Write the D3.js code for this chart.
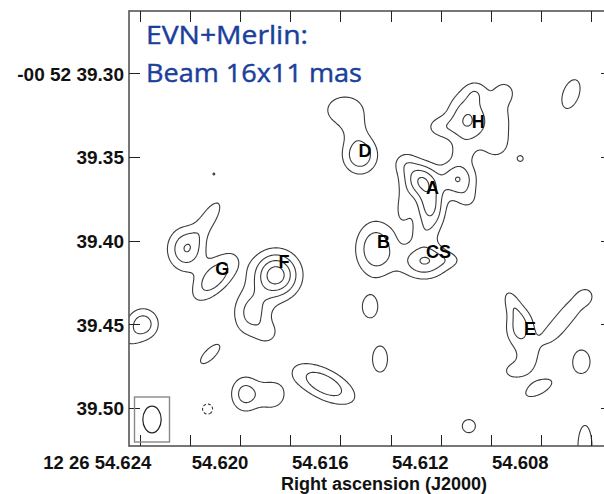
<!DOCTYPE html>
<html>
<head>
<meta charset="utf-8">
<script src="https://cdn.jsdelivr.net/npm/d3@7"></script>
<style>
  body { margin: 0; background: #fff; }
  svg { display: block; }
</style>
</head>
<body>
<svg id="chart" width="604" height="494"></svg>
<script>
// ---- Axes: right ascension (seconds of 12h26m) and declination (arcsec of -00d52m) ----
const raTicks = [54.624, 54.622, 54.620, 54.618, 54.616, 54.614, 54.612, 54.610, 54.608, 54.606];
const raTickLabels = ["12 26 54.624", "", "54.620", "", "54.616", "", "54.612", "", "54.608", ""];
const decTicks = [39.30, 39.35, 39.40, 39.45, 39.50];
const decTickLabels = ["-00 52 39.30", "39.35", "39.40", "39.45", "39.50"];
const raExtent = [54.62445, 54.60515];
const decExtent = [39.2627, 39.5229];

// ---- Brightness model: elliptical Gaussian components ----
// RA (s), Dec (arcsec), peak (in units of the lowest contour), FWHM major / minor (mas), PA (deg E of N)
const compRA   = [54.62106, 54.60881, 54.60679, 54.61522, 54.61582, 54.61542, 54.61091, 54.61059, 54.61202, 54.60963,
                  54.60943, 54.60983, 54.61115, 54.61282, 54.61242, 54.61130, 54.61342, 54.61350, 54.61091, 54.61274,
                  54.61458, 54.61266, 54.61162, 54.62102, 54.62217, 54.62125, 54.61858, 54.61954, 54.61890, 54.62389,
                  54.62449, 54.62121, 54.62131, 54.61982, 54.61874, 54.61666, 54.61482, 54.61442, 54.60883, 54.60915,
                  54.60751, 54.60671, 54.60619, 54.60851, 54.60911, 54.60637, 54.60807, 54.61087, 54.60623];
const compDec  = [39.3602, 39.3510, 39.3124, 39.3489, 39.3220, 39.3339, 39.3279, 39.3112, 39.3321, 39.3291,
                  39.3112, 39.3429, 39.3477, 39.3638, 39.3800, 39.3632, 39.3537, 39.3806, 39.3758, 39.3961,
                  39.4051, 39.4123, 39.4117, 39.4218, 39.4051, 39.3865, 39.4206, 39.4434, 39.4553, 39.4499,
                  39.4595, 39.4679, 39.5008, 39.4918, 39.4924, 39.4858, 39.4398, 39.4709, 39.4523, 39.4374,
                  39.4547, 39.4404, 39.4338, 39.4715, 39.4781, 39.4724, 39.4882, 39.5110, 39.5235];
const compPeak = [1.08, 1.2, 1.5, 2.9, 1.5, 0.6, 3.08, 1.1, 1.3, 1.3,
                  1.1, 0.9, 0.7, 3.5, 3.3, 2.95, 1.3, 1.1, 0.9, 0.8,
                  2.9, 3.05, 0.8, 2.8, 2.9, 1.5, 4.6, 2.4, 1.1, 2.6,
                  0.8, 1.5, -1.5, 2.4, 1.6, 2.8, 1.5, 1.5, 2.4, 1.4,
                  1.3, 1.3, 0.9, 1.3, 1.2, 1.5, 1.5, 1.5, 1.5];
const compMaj  = [3.5, 5.8, 23.5, 18.3, 26.8, 14.1, 26.8, 11.3, 15.5, 31.0,
                  11.3, 12.7, 11.3, 16.9, 24.0, 16.9, 12.7, 19.7, 12.7, 12.7,
                  26.8, 22.6, 14.1, 28.2, 21.2, 26.8, 21.9, 23.3, 11.3, 15.5,
                  14.1, 19.6, 7.9, 17.5, 16.9, 33.1, 16.5, 20.3, 19.7, 16.9,
                  22.6, 22.6, 9.9, 16.9, 12.7, 18.0, 21.9, 10.2, 33.8];
const compMin  = [3.5, 5.8, 12.5, 16.9, 20.4, 14.1, 19.7, 11.3, 11.3, 15.5,
                  11.3, 12.7, 11.3, 16.9, 14.1, 16.9, 12.7, 9.9, 12.7, 12.7,
                  19.7, 16.9, 8.5, 13.4, 18.0, 10.2, 21.9, 18.3, 11.3, 15.5,
                  14.1, 7.9, 7.9, 14.1, 16.9, 14.8, 11.7, 11.7, 14.1, 8.5,
                  11.3, 11.3, 9.9, 12.7, 9.9, 13.3, 9.4, 10.2, 11.0];
const compPA   = [0, 0, 160, 0, 90, 0, 0, 0, 90, 0,
                  0, 0, 0, 0, 0, 0, 0, 0, 0, 0,
                  0, 90, 90, 138, 0, 148, 0, 0, 0, 0,
                  0, 135, 0, 0, 0, 63, 0, 0, 0, 22,
                  140, 140, 0, 0, 90, 0, 118, 0, 0];

// Contour levels (positive solid, negative dashed)
const contourLevels = [1, 2, 3, 4];
const negativeLevels = [-1];

// Component labels
const sourceNames = ["D", "H", "A", "B", "CS", "G", "F", "E"];
const sourceRA  = [54.61502, 54.61049, 54.61232, 54.61428, 54.61208, 54.62072, 54.61826, 54.60843];
const sourceDec = [39.3501, 39.3327, 39.3722, 39.4045, 39.4105, 39.4206, 39.4165, 39.4565];

// Restoring beam (FWHM, mas)
const beamMaj = 16, beamMin = 11, beamPA = 0;

const titleLines = ["EVN+Merlin:", "Beam 16x11 mas"];
const xTitle = "Right ascension (J2000)";

// ---- Layout ----
const plot = { left: 129, top: 11, right: 612, bottom: 446 };
const x = d3.scaleLinear().domain(raExtent).range([plot.left, plot.right]);
const y = d3.scaleLinear().domain(decExtent).range([plot.top, plot.bottom]);

const svg = d3.select("#chart");
svg.append("defs").append("clipPath").attr("id", "plotClip")
  .append("rect")
  .attr("x", plot.left).attr("y", plot.top)
  .attr("width", plot.right - plot.left).attr("height", plot.bottom - plot.top);

// pixels per milliarcsecond along each axis
const kx = Math.abs(x(54.620 + 1 / 15000) - x(54.620));
const ky = Math.abs(y(39.400 + 0.001) - y(39.400));
const k = (kx + ky) / 2;
const FWHM2SIG = 1 / (2 * Math.sqrt(2 * Math.LN2));

const comps = compRA.map((ra, i) => {
  const th = (90 - compPA[i]) * Math.PI / 180;
  const sa = compMaj[i] * FWHM2SIG * k, sb = compMin[i] * FWHM2SIG * k;
  return { cx: x(ra), cy: y(compDec[i]), a: compPeak[i], sa, sb,
           c: Math.cos(th), s: Math.sin(th), reach: 5 * Math.max(sa, sb) };
});

// Sample the model on a pixel grid slightly larger than the frame
const step = 1, pad = 12;
const gx0 = plot.left - pad, gy0 = plot.top - pad;
const nx = Math.ceil((plot.right - plot.left + 2 * pad) / step);
const ny = Math.ceil((plot.bottom - plot.top + 2 * pad) / step);
const field = new Float64Array(nx * ny);
for (let j = 0; j < ny; j++) {
  const py = gy0 + (j + 0.5) * step;
  for (let i = 0; i < nx; i++) {
    const px = gx0 + (i + 0.5) * step;
    let v = 0;
    for (const g of comps) {
      const dx = px - g.cx, dy = py - g.cy;
      if (Math.abs(dx) > g.reach || Math.abs(dy) > g.reach) continue;
      const u = dx * g.c + dy * g.s;
      const w = -dx * g.s + dy * g.c;
      v += g.a * Math.exp(-0.5 * (u * u / (g.sa * g.sa) + w * w / (g.sb * g.sb)));
    }
    field[i + j * nx] = v;
  }
}

const gridPath = d3.geoPath(d3.geoIdentity().scale(step).translate([gx0, gy0]));
const layer = svg.append("g").attr("clip-path", "url(#plotClip)");

layer.selectAll("path.pos")
  .data(d3.contours().size([nx, ny]).thresholds(contourLevels)(field))
  .join("path")
  .attr("class", "pos")
  .attr("d", gridPath)
  .attr("fill", "none")
  .attr("stroke", "#3a3a3a")
  .attr("stroke-width", 1.1);

const negField = field.map(v => -v);
layer.selectAll("path.neg")
  .data(d3.contours().size([nx, ny]).thresholds(negativeLevels.map(v => -v))(negField))
  .join("path")
  .attr("class", "neg")
  .attr("d", gridPath)
  .attr("fill", "none")
  .attr("stroke", "#3a3a3a")
  .attr("stroke-width", 1.1)
  .attr("stroke-dasharray", "3,2");

// ---- Frame and ticks ----
svg.append("rect")
  .attr("x", plot.left).attr("y", plot.top)
  .attr("width", plot.right - plot.left).attr("height", plot.bottom - plot.top)
  .attr("fill", "none").attr("stroke", "#555").attr("stroke-width", 1.6);

const tickLen = 11;
const ticks = svg.append("g").attr("stroke", "#222").attr("stroke-width", 1);
raTicks.forEach(t => {
  const xp = Math.round(x(t)) + 0.5;
  ticks.append("line").attr("x1", xp).attr("x2", xp).attr("y1", plot.bottom).attr("y2", plot.bottom - tickLen);
  ticks.append("line").attr("x1", xp).attr("x2", xp).attr("y1", plot.top).attr("y2", plot.top + tickLen);
});
decTicks.forEach(t => {
  const yp = Math.round(y(t)) + 0.5;
  ticks.append("line").attr("x1", plot.left).attr("x2", plot.left + tickLen).attr("y1", yp).attr("y2", yp);
  ticks.append("line").attr("x1", plot.right).attr("x2", plot.right - tickLen).attr("y1", yp).attr("y2", yp);
});

const axisFont = "'Liberation Sans', Arial, sans-serif";
svg.append("g").selectAll("text")
  .data(raTicks.map((t, i) => ({ t, label: raTickLabels[i], i })).filter(d => d.label))
  .join("text")
  .attr("x", d => x(d.t) + (d.i === 0 ? 11 : 8))
  .attr("y", 469)
  .attr("text-anchor", "end")
  .attr("font-family", axisFont).attr("font-weight", "bold").attr("font-size", 18.5)
  .attr("fill", "#111")
  .text(d => d.label);

svg.append("g").selectAll("text")
  .data(decTicks.map((t, i) => ({ t, label: decTickLabels[i] })))
  .join("text")
  .attr("x", 124)
  .attr("y", d => y(d.t) + 7.5)
  .attr("text-anchor", "end")
  .attr("font-family", axisFont).attr("font-weight", "bold").attr("font-size", 19)
  .attr("fill", "#111")
  .text(d => d.label);

svg.append("text")
  .attr("x", 384).attr("y", 489.5)
  .attr("text-anchor", "middle")
  .attr("font-family", axisFont).attr("font-weight", "bold").attr("font-size", 18)
  .attr("fill", "#111")
  .text(xTitle);

// ---- Component labels ----
svg.append("g").selectAll("text")
  .data(sourceNames.map((n, i) => ({ n, ra: sourceRA[i], dec: sourceDec[i] })))
  .join("text")
  .attr("x", d => x(d.ra)).attr("y", d => y(d.dec))
  .attr("text-anchor", "middle")
  .attr("font-family", axisFont).attr("font-weight", "bold").attr("font-size", 18)
  .attr("fill", "#000")
  .text(d => d.n);

// ---- Beam ----
const beamCx = plot.left + 23, beamCy = plot.bottom - 26.5;
svg.append("rect")
  .attr("x", beamCx - 17.5).attr("y", beamCy - 22.5)
  .attr("width", 35).attr("height", 45)
  .attr("fill", "none").attr("stroke", "#888").attr("stroke-width", 1.4);
svg.append("ellipse")
  .attr("cx", beamCx).attr("cy", beamCy)
  .attr("rx", beamMin * k / 2).attr("ry", beamMaj * k / 2)
  .attr("transform", `rotate(${-beamPA},${beamCx},${beamCy})`)
  .attr("fill", "none").attr("stroke", "#222").attr("stroke-width", 1.2);

// ---- Annotation ----
const noteFont = "'Open Sans', 'Noto Sans', sans-serif";
const noteWidths = [162, 216];
svg.append("g").selectAll("text")
  .data(titleLines)
  .join("text")
  .attr("x", 146)
  .attr("y", (d, i) => 44 + i * 38)
  .attr("font-family", noteFont).attr("font-size", 26)
  .attr("fill", "#1b3f9b")
  .attr("stroke", "#1b3f9b").attr("stroke-width", 0.45)
  .attr("textLength", (d, i) => noteWidths[i])
  .attr("lengthAdjust", "spacingAndGlyphs")
  .text(d => d);
</script>
</body>
</html>
